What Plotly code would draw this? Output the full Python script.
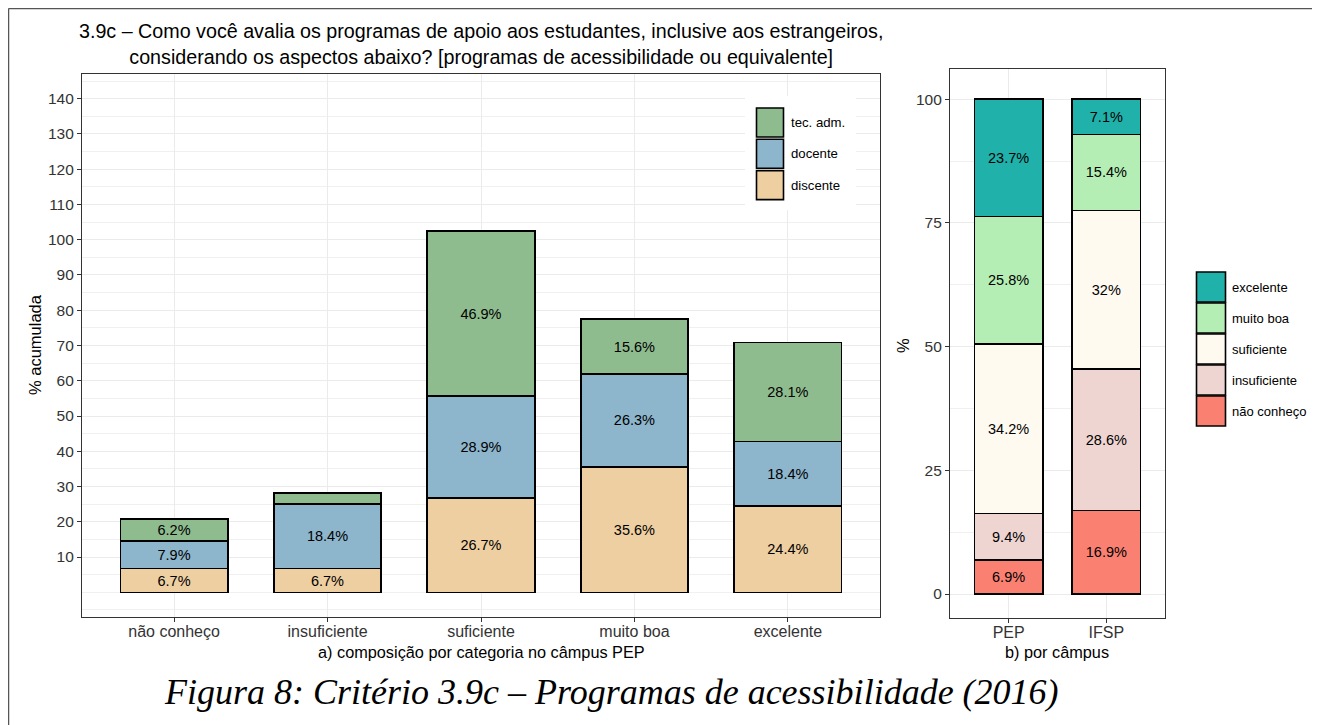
import plotly.graph_objects as go

# ---------------- data ----------------
categories = ["não conheço", "insuficiente", "suficiente", "muito boa", "excelente"]
group_names = ["discente", "docente", "tec. adm."]
discente = [6.7, 6.7, 26.7, 35.6, 24.4]
docente = [7.9, 18.4, 28.9, 26.3, 18.4]
tec_adm = [6.2, 3.1, 46.9, 15.6, 28.1]

campus = ["PEP", "IFSP"]
level_names = ["não conheço", "insuficiente", "suficiente", "muito boa", "excelente"]
nao_conheco = [6.9, 16.9]
insuficiente = [9.4, 28.6]
suficiente = [34.2, 32.0]
muito_boa = [25.8, 15.4]
excelente = [23.7, 7.1]

left_ticks = list(range(10, 150, 10))
right_ticks = [0, 25, 50, 75, 100]

title_text = ("3.9c – Como você avalia os programas de apoio aos estudantes, inclusive aos estrangeiros,<br>"
              "considerando os aspectos abaixo? [programas de acessibilidade ou equivalente]")
caption_text = "Figura 8: Critério 3.9c – Programas de acessibilidade (2016)"

# ---------------- styling ----------------
W, H = 1320, 725
OFF = 8  # page body margin offset
FONT = "Liberation Sans"
left_colors = ["#EECFA1", "#8DB5CC", "#8FBC8F"]
right_colors = ["#FA8072", "#EED5D2", "#FFFAF0", "#B4EEB4", "#20B2AA"]


def fx(px):
    return (px - OFF) / W


def fy(py):
    return 1 - (py - OFF) / H


def lab(vals, minimum=5):
    return [f"{v:g}%" if v >= minimum else "" for v in vals]


fig = go.Figure()

for name, vals, col in zip(group_names, [discente, docente, tec_adm], left_colors):
    fig.add_trace(go.Bar(
        x=categories, y=vals, name=name, xaxis="x", yaxis="y",
        marker=dict(color=col, line=dict(color="black", width=1.6)),
        text=lab(vals), textposition="inside", insidetextanchor="middle",
        textangle=0, textfont=dict(family=FONT, size=14.5, color="black"),
        width=0.7, showlegend=False, hoverinfo="x+y+name",
    ))

for name, vals, col in zip(level_names, [nao_conheco, insuficiente, suficiente, muito_boa, excelente], right_colors):
    fig.add_trace(go.Bar(
        x=campus, y=vals, name=name, xaxis="x2", yaxis="y2",
        marker=dict(color=col, line=dict(color="black", width=1.6)),
        text=lab(vals, 0), textposition="inside", insidetextanchor="middle",
        textangle=0, textfont=dict(family=FONT, size=14.5, color="black"),
        width=0.7, showlegend=False, hoverinfo="x+y+name",
    ))

axis_common = dict(
    showline=True, mirror=True, linecolor="#333333", linewidth=1.1,
    ticks="outside", ticklen=4, tickcolor="#333333", tickwidth=1.1,
    tickfont=dict(family=FONT, size=15.5, color="#333333"),
    gridcolor="#EBEBEB", gridwidth=1.1, zeroline=False, automargin=False,
)

fig.update_layout(
    width=W, height=H,
    margin=dict(l=0, r=0, t=0, b=0, pad=0),
    paper_bgcolor="white", plot_bgcolor="white",
    barmode="stack", bargap=0.3,
    font=dict(family=FONT, color="black"),
    uniformtext=dict(minsize=8, mode="show"),
    xaxis=dict(domain=[fx(82), fx(880)], range=[-0.6, 4.6], type="category",
               categoryorder="array", categoryarray=categories, anchor="y", **axis_common),
    yaxis=dict(domain=[fy(617), fy(74)], range=[-7, 147], tickvals=left_ticks,
               minor=dict(dtick=5, tick0=0, showgrid=True, gridcolor="#F0F0F0", gridwidth=0.7, ticks=""),
               anchor="x", **axis_common),
    xaxis2=dict(domain=[fx(950), fx(1165)], range=[-0.6, 1.6], type="category",
                categoryorder="array", categoryarray=campus, anchor="y2", **axis_common),
    yaxis2=dict(domain=[fy(618), fy(69)], range=[-4.85, 106.1], tickvals=right_ticks,
                minor=dict(dtick=12.5, tick0=0, showgrid=True, gridcolor="#F0F0F0", gridwidth=0.7, ticks=""),
                anchor="x2", **axis_common),
)
fig.update_xaxes(tickfont=dict(size=16), ticklabelstandoff=-4)

ann = []
ann.append(dict(x=fx(481), y=fy(44), xref="paper", yref="paper", text=title_text, showarrow=False,
                xanchor="center", yanchor="middle", align="center",
                font=dict(family=FONT, size=19.7, color="black")))
ann.append(dict(x=fx(35), y=fy(345), xref="paper", yref="paper", text="% acumulada", showarrow=False,
                textangle=-90, xanchor="center", yanchor="middle",
                font=dict(family=FONT, size=16.5, color="black")))
ann.append(dict(x=fx(481), y=fy(652), xref="paper", yref="paper", text="a) composição por categoria no câmpus PEP",
                showarrow=False, xanchor="center", yanchor="middle",
                font=dict(family=FONT, size=16.3, color="black")))
ann.append(dict(x=fx(903), y=fy(345), xref="paper", yref="paper", text="%", showarrow=False,
                textangle=-90, xanchor="center", yanchor="middle",
                font=dict(family=FONT, size=16.5, color="black")))
ann.append(dict(x=fx(1057), y=fy(652), xref="paper", yref="paper", text="b) por câmpus", showarrow=False,
                xanchor="center", yanchor="middle", font=dict(family=FONT, size=16.3, color="black")))
ann.append(dict(x=fx(611), y=fy(692), xref="paper", yref="paper", text="<i>" + caption_text + "</i>",
                showarrow=False, xanchor="center", yanchor="middle",
                font=dict(family="Liberation Serif", size=36, color="black")))

shapes = []
# outer frame (left + top edges)
shapes.append(dict(type="line", xref="paper", yref="paper", x0=fx(8.5), x1=fx(8.5), y0=fy(8.5), y1=fy(733),
                   line=dict(color="#555555", width=1.5), layer="above"))
shapes.append(dict(type="line", xref="paper", yref="paper", x0=fx(8.5), x1=fx(1330), y0=fy(8.5), y1=fy(8.5),
                   line=dict(color="#555555", width=1.5), layer="above"))

# left legend (manual keys), top to bottom: tec. adm., docente, discente
shapes.append(dict(type="rect", xref="paper", yref="paper", x0=fx(745), x1=fx(856), y0=fy(210), y1=fy(96),
                   fillcolor="white", line=dict(width=0), layer="above"))
leg_left = list(zip(group_names, left_colors))[::-1]
for i, (name, col) in enumerate(leg_left):
    top = 108 + i * 31.3
    shapes.append(dict(type="rect", xref="paper", yref="paper", x0=fx(756.5), x1=fx(783.5),
                       y0=fy(top + 29), y1=fy(top), fillcolor=col,
                       line=dict(color="black", width=1.6), layer="above"))
    ann.append(dict(x=fx(789), y=fy(top + 14.5), xref="paper", yref="paper", text=name, showarrow=False,
                    xanchor="left", yanchor="middle", font=dict(family=FONT, size=13.2, color="black")))

# right legend, top to bottom: excelente ... não conheço
leg_right = list(zip(level_names, right_colors))[::-1]
for i, (name, col) in enumerate(leg_right):
    top = 272 + i * 31
    shapes.append(dict(type="rect", xref="paper", yref="paper", x0=fx(1196.5), x1=fx(1225.5),
                       y0=fy(top + 30), y1=fy(top), fillcolor=col,
                       line=dict(color="black", width=1.6), layer="above"))
    ann.append(dict(x=fx(1230), y=fy(top + 15), xref="paper", yref="paper", text=name, showarrow=False,
                    xanchor="left", yanchor="middle", font=dict(family=FONT, size=13, color="black")))

fig.update_layout(annotations=ann, shapes=shapes)

fig.write_html("out.html")
